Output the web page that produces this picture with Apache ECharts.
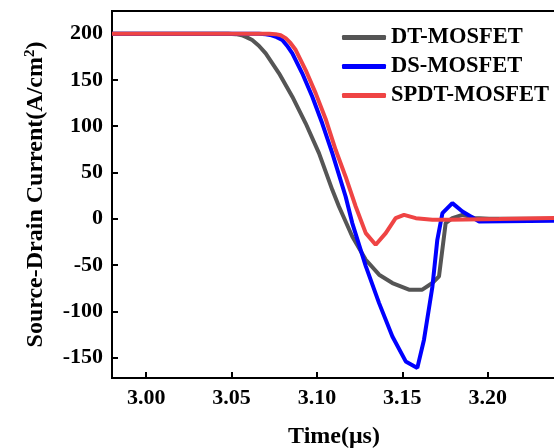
<!DOCTYPE html>
<html>
<head>
<meta charset="utf-8">
<script src="https://cdn.jsdelivr.net/npm/echarts@6/dist/echarts.min.js"></script>
<style>
html,body{margin:0;padding:0;background:#fff;}
#chart{width:554px;height:448px;}
</style>
</head>
<body>
<div id="chart"></div>
<script>
// ---- data ----
const seriesNames = ['DT-MOSFET', 'DS-MOSFET', 'SPDT-MOSFET'];

const dtTime    = [2.98, 3.048, 3.0525, 3.0560, 3.0590, 3.0621, 3.0660, 3.0700, 3.0778, 3.0856, 3.0934, 3.1012, 3.1090, 3.1129, 3.1207, 3.1286, 3.1364, 3.1442, 3.1539, 3.1617, 3.1676, 3.1715, 3.1754, 3.1793, 3.1852, 3.1920, 3.2008, 3.24];
const dtCurrent = [200,  200,   199.5,  198.3,  196.0,  193.1,  187.0,  178.7,  157.2,  131.9,  103.2,  70.9,   31.3,   13.3,   -19.1,  -44.2,  -60.4,  -69.4,  -76.6,  -76.6,  -69.4,  -62.2,  -4.6,   0.8,    4.3,    1.0,    0.0,    0.0];

const dsTime    = [2.98, 3.066, 3.0700, 3.0735, 3.0765, 3.0797, 3.0825, 3.0856, 3.0914, 3.0973, 3.1031, 3.1090, 3.1168, 3.1207, 3.1286, 3.1364, 3.1442, 3.1520, 3.1588, 3.1627, 3.1676, 3.1705, 3.1735, 3.1793, 3.1852, 3.1950, 3.24];
const dsCurrent = [200,  200,   199.4,  198.2,  196.2,  193.1,  187.0,  178.7,  157.2,  131.9,  103.2,  70.9,   24.1,   -4.6,   -51.1,  -91.1,  -127.1, -154.1, -161.1, -130.6, -73.7,  -22.7,  6.1,    16.9,   7.9,    -3.0,   -2.0];

const spTime    = [2.98, 3.072, 3.0758, 3.0788, 3.0817, 3.0845, 3.0876, 3.0934, 3.0993, 3.1051, 3.1110, 3.1168, 3.1227, 3.1286, 3.1344, 3.1403, 3.1461, 3.1510, 3.1579, 3.1676, 3.1774, 3.2067, 3.24];
const spCurrent = [200,  200,   199.5,  198.3,  195.2,  190.0,  182.3,  160.7,  135.5,  107.9,  74.3,   45.5,   13.3,   -15.5,  -28.1,  -15.5,  0.7,    4.3,    0.7,    -1.0,   -1.0,   -0.3,   0.8];

const xTicks = [3.00, 3.05, 3.10, 3.15, 3.20];
const yTicks = [-150, -100, -50, 0, 50, 100, 150, 200];

const colors = ['#555555', '#0000FF', '#EF4444'];

function pairs(xs, ys) { return xs.map((x, i) => [x, ys[i]]); }

const font = '"Liberation Serif", "Times New Roman", serif';
const chart = echarts.init(document.getElementById('chart'), null, {renderer: 'canvas'});

chart.setOption({
  animation: false,
  backgroundColor: '#fff',
  grid: {
    left: 112, top: 11, width: 444, height: 367,
    outerBoundsMode: 'none', containLabel: false,
    show: true, borderColor: '#000', borderWidth: 2, backgroundColor: 'transparent'
  },
  legend: {
    orient: 'vertical',
    left: 337, top: 21,
    itemWidth: 44, itemHeight: 5, itemGap: 6,
    icon: 'roundRect',
    textStyle: {fontFamily: font, fontWeight: 'bold', fontSize: 22.5, color: '#000'},
    data: seriesNames
  },
  xAxis: {
    type: 'value',
    min: 2.98, max: 3.24,
    name: 'Time(μs)',
    nameLocation: 'middle', nameGap: 47,
    nameTextStyle: {fontFamily: font, fontWeight: 'bold', fontSize: 24, color: '#000'},
    axisLine: {show: true, onZero: false, lineStyle: {color: '#000', width: 2}},
    axisTick: {show: true, inside: true, length: 6, lineStyle: {color: '#000', width: 2}, customValues: xTicks},
    axisLabel: {fontFamily: font, fontWeight: 'bold', fontSize: 22, color: '#000', margin: 9,
      customValues: xTicks, formatter: v => v.toFixed(2)},
    splitLine: {show: false}
  },
  yAxis: {
    type: 'value',
    min: -172, max: 224.5,
    name: 'Source-Drain Current(A/cm{sup|2})',
    nameLocation: 'middle', nameGap: 64,
    nameTextStyle: {fontFamily: font, fontWeight: 'bold', fontSize: 24, color: '#000',
      rich: {sup: {fontFamily: font, fontWeight: 'bold', fontSize: 15, color: '#000', verticalAlign: 'top', padding: [0,0,10,0]}}},
    axisLine: {show: true, onZero: false, lineStyle: {color: '#000', width: 2}},
    axisTick: {show: true, inside: true, length: 6, lineStyle: {color: '#000', width: 2}, customValues: yTicks},
    axisLabel: {fontFamily: font, fontWeight: 'bold', fontSize: 22, color: '#000', margin: 9,
      customValues: yTicks},
    splitLine: {show: false}
  },
  series: [
    {name: seriesNames[0], type: 'line', data: pairs(dtTime, dtCurrent), showSymbol: false, symbol: 'none',
     lineStyle: {color: colors[0], width: 4}, itemStyle: {color: colors[0]}, z: 2},
    {name: seriesNames[1], type: 'line', data: pairs(dsTime, dsCurrent), showSymbol: false, symbol: 'none',
     lineStyle: {color: colors[1], width: 4}, itemStyle: {color: colors[1]}, z: 3},
    {name: seriesNames[2], type: 'line', data: pairs(spTime, spCurrent), showSymbol: false, symbol: 'none',
     lineStyle: {color: colors[2], width: 4}, itemStyle: {color: colors[2]}, z: 4}
  ]
});
</script>
</body>
</html>
